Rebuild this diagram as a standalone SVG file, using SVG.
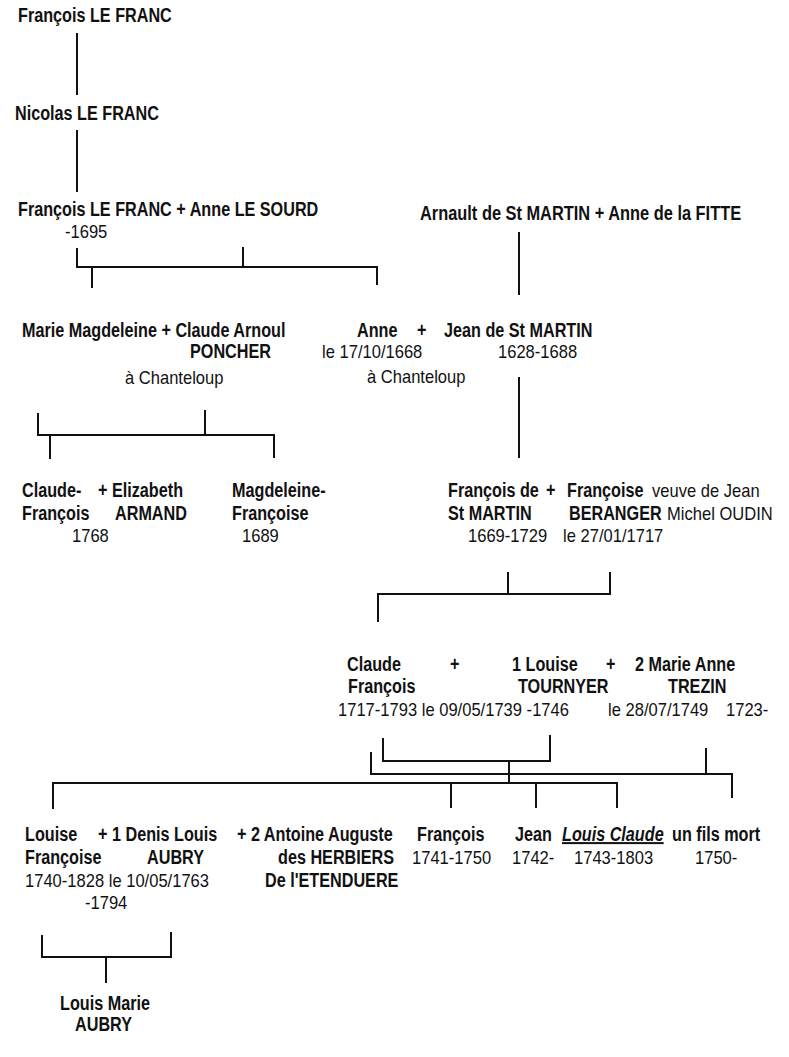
<svg xmlns="http://www.w3.org/2000/svg" width="789" height="1057" viewBox="0 0 789 1057">
<style>
.b{font-family:"Liberation Sans",Arial,sans-serif;font-weight:bold;font-size:20px;fill:#111}
.n{font-family:"Liberation Sans",Arial,sans-serif;font-size:18px;fill:#111}
.i{font-style:italic;text-decoration:underline}
.c{fill:none;stroke:#111;stroke-width:2}
</style>
<rect width="789" height="1057" fill="#fff"/>
<g id="connectors" class="c">
<path d="M77,33V95"/>
<path d="M77,130V192"/>
<path d="M77,248V267H377V285M243,247V267M92,267V288"/>
<path d="M519,232V295"/>
<path d="M519,377V458"/>
<path d="M38,413V435H274V458M205,410V435M50,435V459"/>
<path d="M508,572V594M610,572V594H378V622"/>
<path d="M383,738V761H550V735M509,761V783"/>
<path d="M371,752V774H732V798M706,748V774"/>
<path d="M53,809V783H617V808M451,783V808M536,783V808"/>
<path d="M42,935V957H171V932M106,957V983"/>
</g>
<g id="n1"><text class="b" transform="translate(18,22) scale(.81,1)">François LE FRANC</text></g>
<g id="n2"><text class="b" transform="translate(15,120) scale(.81,1)">Nicolas LE FRANC</text></g>
<g id="n3"><text class="b" transform="translate(18,216) scale(.81,1)">François LE FRANC + Anne LE SOURD</text>
<text class="n" transform="translate(65,238) scale(.92,1)">-1695</text></g>
<g id="n4"><text class="b" transform="translate(420,220) scale(.82,1)">Arnault de St MARTIN + Anne de la FITTE</text></g>
<g id="n5"><text class="b" transform="translate(22,337) scale(.81,1)">Marie Magdeleine + Claude Arnoul</text>
<text class="b" transform="translate(190,358) scale(.81,1)">PONCHER</text>
<text class="n" transform="translate(125,384) scale(.92,1)">à Chanteloup</text></g>
<g id="n6"><text class="b" transform="translate(357,337) scale(.81,1)">Anne</text>
<text class="b" transform="translate(417,337) scale(.81,1)">+</text>
<text class="b" transform="translate(444,337) scale(.81,1)">Jean de St MARTIN</text>
<text class="n" transform="translate(322,358) scale(.92,1)">le 17/10/1668</text>
<text class="n" transform="translate(498,358) scale(.92,1)">1628-1688</text>
<text class="n" transform="translate(367,383) scale(.92,1)">à Chanteloup</text></g>
<g id="n7"><text class="b" transform="translate(22,497) scale(.81,1)">Claude-</text>
<text class="b" transform="translate(98,497) scale(.81,1)">+ Elizabeth</text>
<text class="b" transform="translate(22,520) scale(.81,1)">François</text>
<text class="b" transform="translate(115,520) scale(.81,1)">ARMAND</text>
<text class="n" transform="translate(72,542) scale(.92,1)">1768</text></g>
<g id="n8"><text class="b" transform="translate(232,497) scale(.81,1)">Magdeleine-</text>
<text class="b" transform="translate(232,520) scale(.81,1)">Françoise</text>
<text class="n" transform="translate(242,542) scale(.92,1)">1689</text></g>
<g id="n9"><text class="b" transform="translate(448,497) scale(.81,1)">François de</text>
<text class="b" transform="translate(546,497) scale(.81,1)">+</text>
<text class="b" transform="translate(567,497) scale(.81,1)">Françoise</text>
<text class="n" transform="translate(652,497) scale(.92,1)">veuve de Jean</text>
<text class="b" transform="translate(448,520) scale(.81,1)">St MARTIN</text>
<text class="b" transform="translate(569,520) scale(.81,1)">BERANGER</text>
<text class="n" transform="translate(667,520) scale(.92,1)">Michel OUDIN</text>
<text class="n" transform="translate(468,542) scale(.92,1)">1669-1729</text>
<text class="n" transform="translate(563,542) scale(.92,1)">le 27/01/1717</text></g>
<g id="n10"><text class="b" transform="translate(347,671) scale(.81,1)">Claude</text>
<text class="b" transform="translate(450,671) scale(.81,1)">+</text>
<text class="b" transform="translate(512,671) scale(.81,1)">1 Louise</text>
<text class="b" transform="translate(606,671) scale(.81,1)">+</text>
<text class="b" transform="translate(635,671) scale(.81,1)">2 Marie Anne</text>
<text class="b" transform="translate(348,693) scale(.81,1)">François</text>
<text class="b" transform="translate(518,693) scale(.81,1)">TOURNYER</text>
<text class="b" transform="translate(668,693) scale(.81,1)">TREZIN</text>
<text class="n" transform="translate(338,716) scale(.92,1)">1717-1793 le 09/05/1739 -1746</text>
<text class="n" transform="translate(608,716) scale(.92,1)">le 28/07/1749</text>
<text class="n" transform="translate(726,716) scale(.92,1)">1723-</text></g>
<g id="n11"><text class="b" transform="translate(25,841) scale(.81,1)">Louise</text>
<text class="b" transform="translate(98,841) scale(.81,1)">+ 1 Denis Louis</text>
<text class="b" transform="translate(237,841) scale(.81,1)">+ 2 Antoine Auguste</text>
<text class="b" transform="translate(25,864) scale(.81,1)">Françoise</text>
<text class="b" transform="translate(147,864) scale(.81,1)">AUBRY</text>
<text class="b" transform="translate(278,864) scale(.81,1)">des HERBIERS</text>
<text class="n" transform="translate(25,887) scale(.92,1)">1740-1828 le 10/05/1763</text>
<text class="b" transform="translate(265,887) scale(.81,1)">De l'ETENDUERE</text>
<text class="n" transform="translate(85,909) scale(.92,1)">-1794</text></g>
<g id="n12"><text class="b" transform="translate(417,841) scale(.81,1)">François</text>
<text class="n" transform="translate(412,864) scale(.92,1)">1741-1750</text></g>
<g id="n13"><text class="b" transform="translate(515,841) scale(.81,1)">Jean</text>
<text class="n" transform="translate(512,864) scale(.92,1)">1742-</text></g>
<g id="n14"><text class="b i" transform="translate(562,841) scale(.81,1)">Louis Claude</text>
<text class="n" transform="translate(574,864) scale(.92,1)">1743-1803</text></g>
<g id="n15"><text class="b" transform="translate(672,841) scale(.81,1)">un fils mort</text>
<text class="n" transform="translate(695,864) scale(.92,1)">1750-</text></g>
<g id="n16"><text class="b" transform="translate(60,1010) scale(.81,1)">Louis Marie</text>
<text class="b" transform="translate(75,1031) scale(.81,1)">AUBRY</text></g>
</svg>
